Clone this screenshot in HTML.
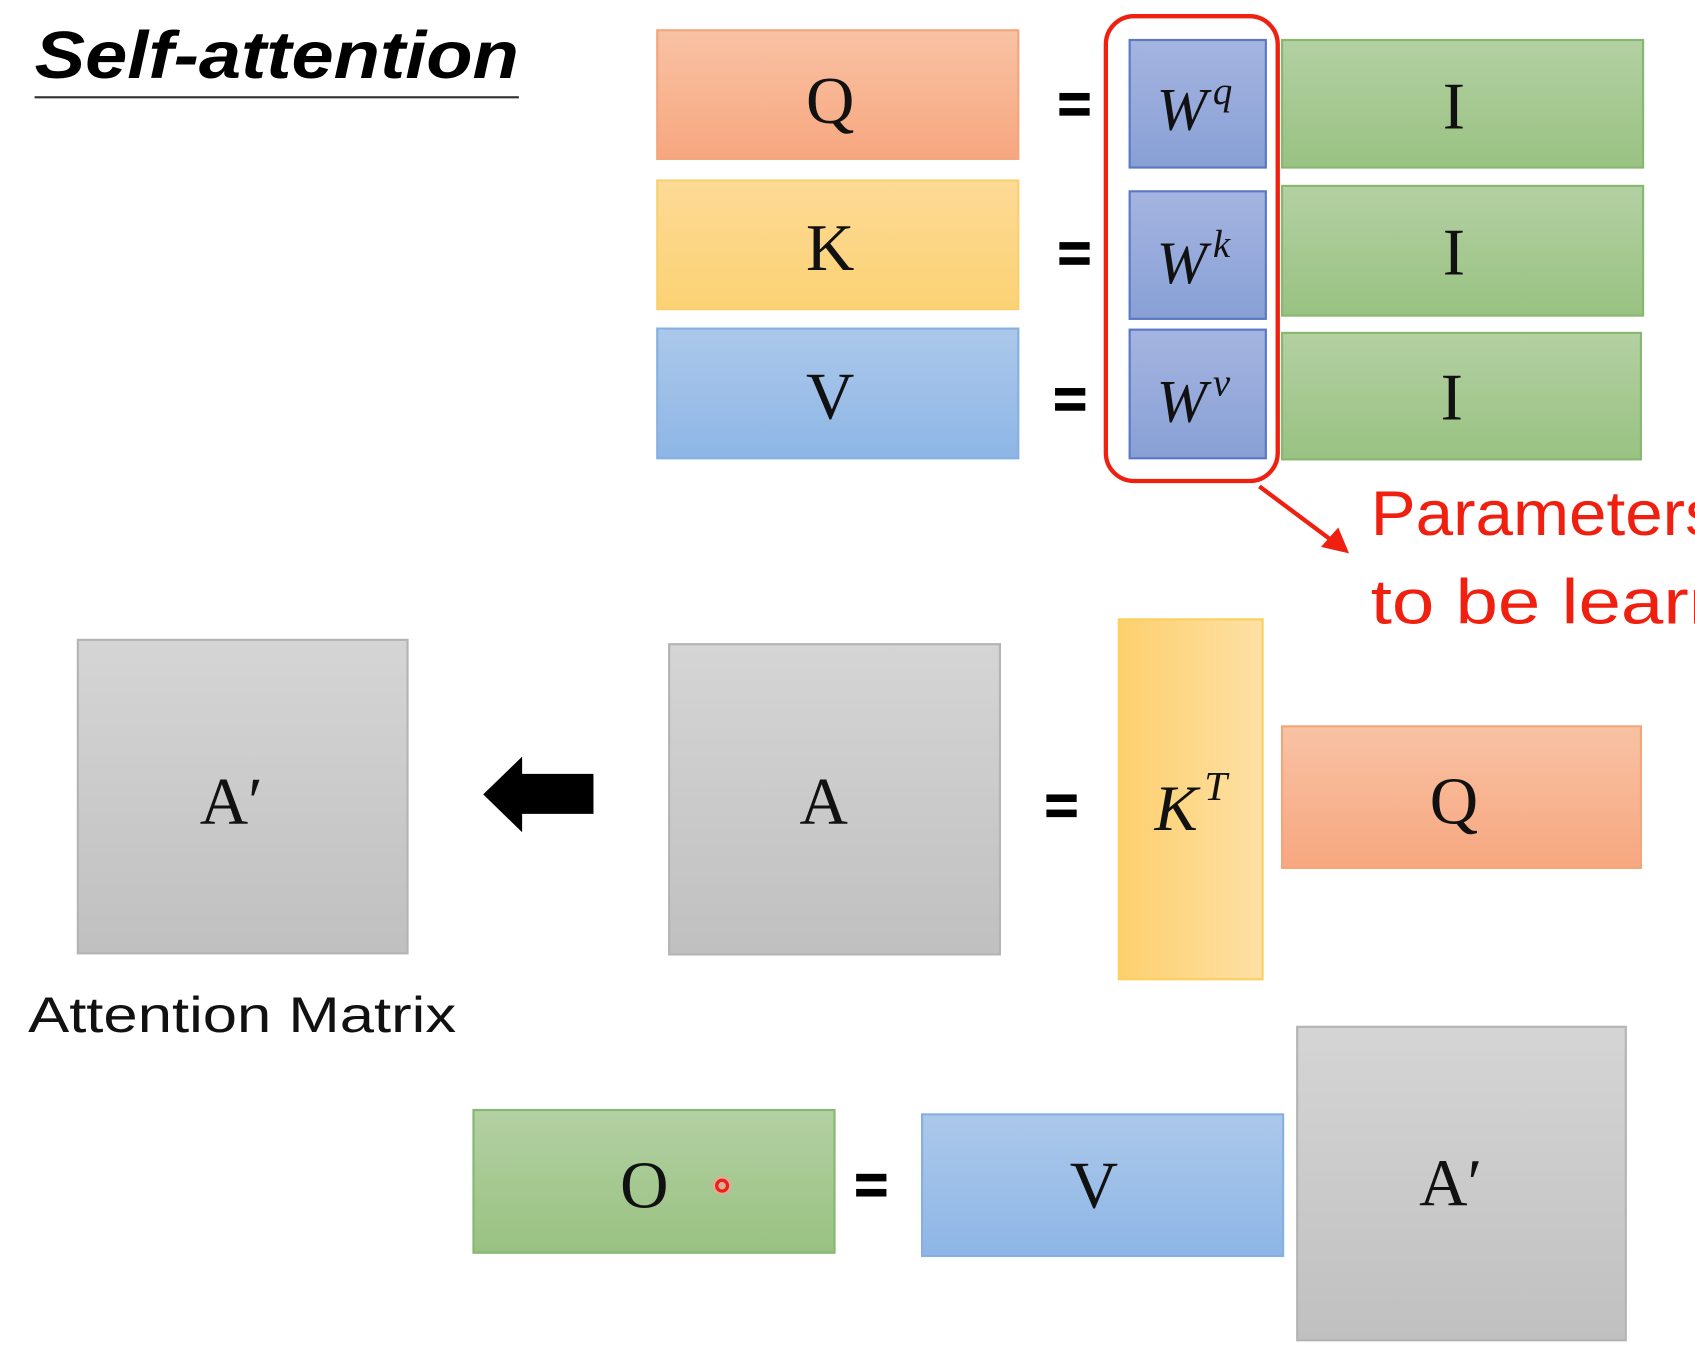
<!DOCTYPE html>
<html><head><meta charset="utf-8"><style>
html,body{margin:0;padding:0;background:#fff;width:1695px;height:1350px;overflow:hidden}
svg{display:block}
</style></head><body>
<svg width="1695" height="1350" viewBox="0 0 1568 1249" preserveAspectRatio="none" xmlns="http://www.w3.org/2000/svg">
<defs>
<linearGradient id="or" x1="0" y1="0" x2="0" y2="1"><stop offset="0" stop-color="#f8c2a4"/><stop offset="1" stop-color="#f7a77f"/></linearGradient>
<linearGradient id="ye" x1="0" y1="0" x2="0" y2="1"><stop offset="0" stop-color="#fdda96"/><stop offset="1" stop-color="#fcd274"/></linearGradient>
<linearGradient id="yeh" x1="0" y1="0" x2="1" y2="0"><stop offset="0" stop-color="#fdd06e"/><stop offset="1" stop-color="#fde0a4"/></linearGradient>
<linearGradient id="bl" x1="0" y1="0" x2="0" y2="1"><stop offset="0" stop-color="#acc8ea"/><stop offset="1" stop-color="#8db6e6"/></linearGradient>
<linearGradient id="pu" x1="0" y1="0" x2="0" y2="1"><stop offset="0" stop-color="#a5b4e0"/><stop offset="1" stop-color="#88a0d6"/></linearGradient>
<linearGradient id="gr" x1="0" y1="0" x2="0" y2="1"><stop offset="0" stop-color="#b3d0a2"/><stop offset="1" stop-color="#99c282"/></linearGradient>
<linearGradient id="gy" x1="0" y1="0" x2="0" y2="1"><stop offset="0" stop-color="#d5d5d5"/><stop offset="1" stop-color="#c0c0c0"/></linearGradient>
</defs>
<g font-family="Liberation Sans, sans-serif">
<text x="32" y="72" font-size="62" font-weight="bold" font-style="italic" textLength="448" lengthAdjust="spacingAndGlyphs">Self-attention</text>
<rect x="32" y="89" width="448" height="2" fill="#333"/>
</g>
<g stroke-width="2">
<rect x="608" y="28" width="334" height="119" fill="url(#or)" stroke="#f2a67c"/>
<rect x="608" y="167" width="334" height="119" fill="url(#ye)" stroke="#f8d070"/>
<rect x="608" y="304" width="334" height="120" fill="url(#bl)" stroke="#86b0e0"/>
<rect x="1045" y="37" width="126" height="118" fill="url(#pu)" stroke="#5a78c4"/>
<rect x="1045" y="177" width="126" height="118" fill="url(#pu)" stroke="#5a78c4"/>
<rect x="1045" y="305" width="126" height="119" fill="url(#pu)" stroke="#5a78c4"/>
<rect x="1186" y="37" width="334" height="118" fill="url(#gr)" stroke="#86b872"/>
<rect x="1186" y="172" width="334" height="120" fill="url(#gr)" stroke="#86b872"/>
<rect x="1186" y="308" width="332" height="117" fill="url(#gr)" stroke="#86b872"/>
<rect x="1023" y="15" width="159" height="430" rx="26" fill="none" stroke="#f02010" stroke-width="4"/>
<rect x="72" y="592" width="305" height="290" fill="url(#gy)" stroke="#b4b4b4"/>
<rect x="619" y="596" width="306" height="287" fill="url(#gy)" stroke="#b4b4b4"/>
<rect x="1035" y="573" width="133" height="333" fill="url(#yeh)" stroke="#fcd060"/>
<rect x="1186" y="672" width="332" height="131" fill="url(#or)" stroke="#f2a67c"/>
<rect x="438" y="1027" width="334" height="132" fill="url(#gr)" stroke="#86b872"/>
<rect x="853" y="1031" width="334" height="131" fill="url(#bl)" stroke="#86b0e0"/>
<rect x="1200" y="950" width="304" height="290" fill="url(#gy)" stroke="#b4b4b4"/>
</g>
<g fill="#000">
<rect x="980" y="86" width="28" height="7"/><rect x="980" y="100" width="28" height="7"/>
<rect x="980" y="224" width="28" height="7"/><rect x="980" y="238" width="28" height="7"/>
<rect x="976" y="359" width="28" height="7"/><rect x="976" y="373" width="28" height="7"/>
<rect x="968" y="735" width="28" height="7"/><rect x="968" y="749" width="28" height="7"/>
<rect x="792" y="1086" width="28" height="7"/><rect x="792" y="1100" width="28" height="7"/>
<polygon points="447,735 483,700 483,716 549,716 549,753 483,753 483,770"/>
</g>
<g font-family="Liberation Serif, serif" font-size="62" text-anchor="middle" fill="#111">
<text x="768" y="114">Q</text>
<text x="768" y="250">K</text>
<text x="768" y="387">V</text>
<text x="1345" y="119">I</text>
<text x="1345" y="254">I</text>
<text x="1343" y="388">I</text>
<text x="1345" y="762">Q</text>
<text x="1012" y="1117">V</text>
<text x="596" y="1117">O</text>
<text x="762" y="762">A</text>
<text x="214" y="762">A′</text>
<text x="1342" y="1115">A′</text>
</g>
<g font-family="Liberation Serif, serif" font-style="italic" fill="#111">
<text x="1070" y="120" font-size="56">W</text><text x="1122" y="96" font-size="36">q</text>
<text x="1070" y="262" font-size="56">W</text><text x="1122" y="238" font-size="36">k</text>
<text x="1070" y="390" font-size="56">W</text><text x="1122" y="366" font-size="36">v</text>
<text x="1068" y="768" font-size="60">K</text><text x="1114" y="740" font-size="38">T</text>
</g>
<circle cx="668" cy="1097" r="9" fill="#f8a0a0" opacity="0.6"/>
<circle cx="668" cy="1097" r="5" fill="none" stroke="#f02010" stroke-width="3"/>
<line x1="1165" y1="450" x2="1236" y2="503" stroke="#f02010" stroke-width="4"/>
<polygon points="1248,512 1222,506 1238,488" fill="#f02010"/>
<g font-family="Liberation Sans, sans-serif" fill="#f02010" font-size="58">
<text x="1268" y="495" textLength="322" lengthAdjust="spacingAndGlyphs">Parameters</text>
<text x="1268" y="577" textLength="412" lengthAdjust="spacingAndGlyphs">to be learned</text>
</g>
<text x="26" y="955" font-family="Liberation Sans, sans-serif" font-size="46" fill="#111" textLength="396" lengthAdjust="spacingAndGlyphs">Attention Matrix</text>
</svg>
</body></html>
